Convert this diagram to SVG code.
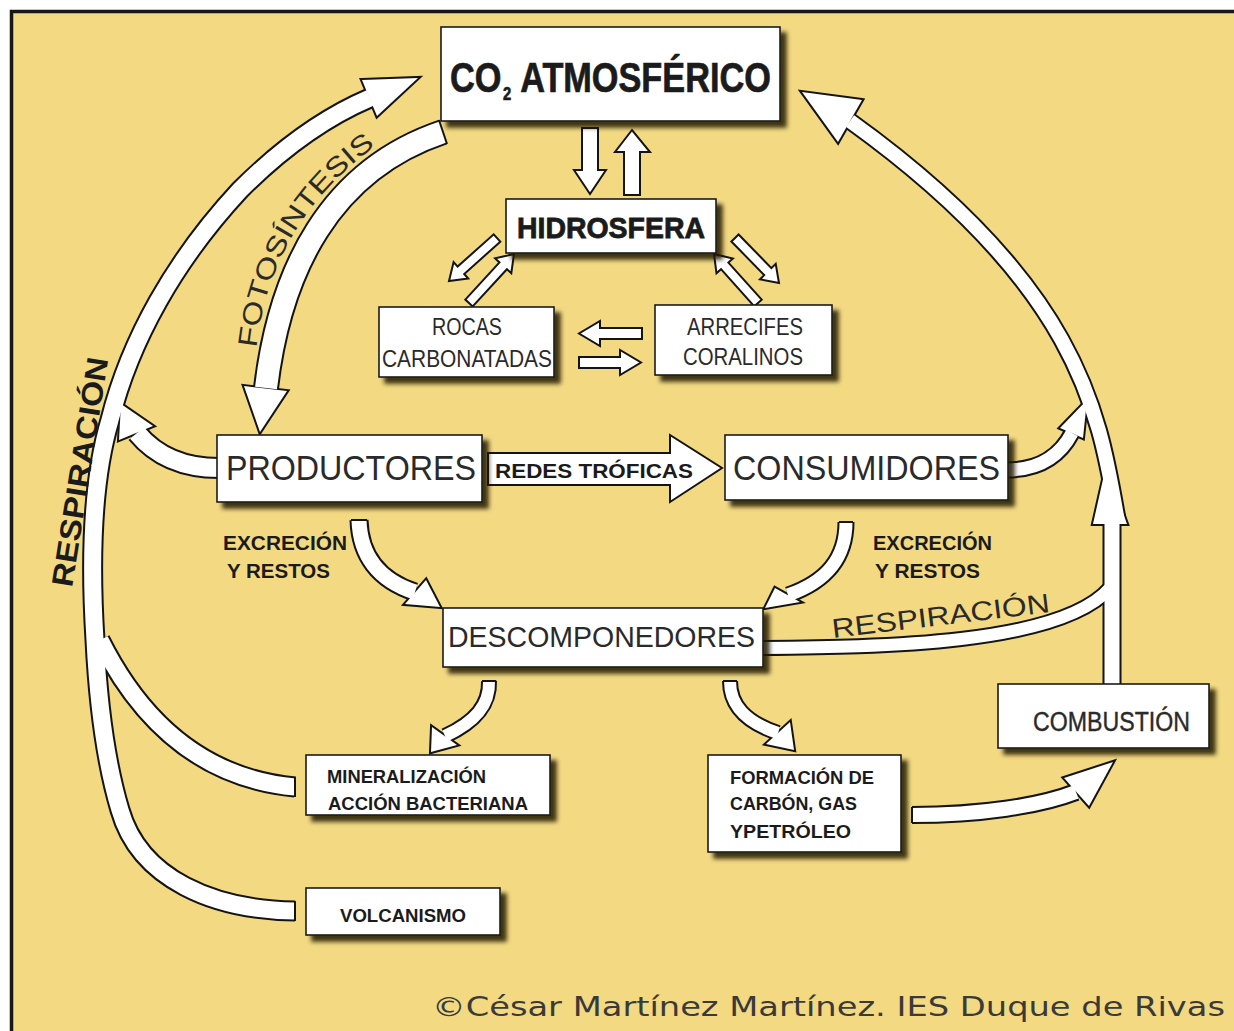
<svg xmlns="http://www.w3.org/2000/svg" xmlns:xlink="http://www.w3.org/1999/xlink" width="1234" height="1031" viewBox="0 0 1234 1031">
  <style>
    .frame { fill: #F2D982; stroke: #161616; stroke-width: 3.5; }
    .box { fill: #ffffff; stroke: #1c1c1c; stroke-width: 1.6; filter: url(#shadow); }
    .edge use.s { fill: none; stroke: #141414; }
    .edge use.h { fill: #141414; stroke: #141414; stroke-width: 4; stroke-linejoin: miter; }
    .fill use.s { fill: none; stroke: #ffffff; }
    .fill use.h { fill: #ffffff; stroke: none; }
    .cap { stroke: #141414; stroke-width: 2; }
    .ha { fill: #ffffff; stroke: #141414; stroke-width: 2; stroke-linejoin: miter; }
    text { font-family: "Liberation Sans", Arial, sans-serif; fill: #1b1b1b; }
    .b { font-weight: bold; }
    .reg { fill: #2a2a2a; }
    .copy { font-family: "DejaVu Sans", "Open Sans", sans-serif; fill: #3a3a3a; font-size: 27px; }
  </style>
  <defs>
    <filter id="shadow" x="-10%" y="-10%" width="130%" height="140%">
      <feDropShadow dx="6" dy="6" stdDeviation="2.2" flood-color="#1e1400" flood-opacity="0.85"/>
    </filter>
    <!-- curved band centrelines -->
    <path id="p-resp-left" d="M 295 911 C 215 910, 140 880, 120 810 C 105 760, 98 700, 95 640 C 90 560, 92 480, 110 420 C 130 340, 175 260, 240 190 C 285 145, 330 115, 370 98"/>
    <path id="p-miner" d="M 295 787 C 220 780, 150 740, 100 640"/>
    <path id="p-prod-resp" d="M 219 468 C 182 468, 156 456, 137 433"/>
    <path id="p-foto" d="M 443 132 C 330 170, 280 270, 266 388"/>
    <path id="p-resp-right" d="M 1118 522 C 1100 420, 1085 290, 850 121"/>
    <path id="p-comb-up" d="M 1112 686 L 1112 524"/>
    <path id="p-desc-resp" d="M 760 648 C 880 647, 1060 645, 1110 588"/>
    <path id="p-cons-resp" d="M 1006 470 C 1040 470, 1060 456, 1072 433"/>
    <path id="p-prod-desc" d="M 359 520 C 360 555, 378 580, 415 592"/>
    <path id="p-cons-desc" d="M 846 522 C 846 560, 825 582, 788 595"/>
    <path id="p-desc-miner" d="M 489 681 C 490 705, 475 722, 445 736"/>
    <path id="p-desc-form" d="M 730 681 C 730 705, 745 722, 778 733"/>
    <path id="p-form-comb" d="M 912 815 C 980 815, 1040 806, 1076 792"/>
    <!-- arrowheads -->
    <polygon id="h-resp-left" points="362,80 418,78 377,116"/>
    <polygon id="h-prod-resp" points="119,440 121,404 153,426"/>
    <polygon id="h-foto" points="244,386 260,432 287,391"/>
    <polygon id="h-resp-right" points="862,100 802,92 838,142"/>
    <polygon id="h-comb-up" points="1093,524 1106,466 1127,524"/>
    <polygon id="h-cons-resp" points="1060,428 1087,400 1083,438"/>
    <polygon id="h-prod-desc" points="426,580 440,607 405,604"/>
    <polygon id="h-cons-desc" points="775,588 765,608 800,602"/>
    <polygon id="h-desc-miner" points="432,727 431,752 457,745"/>
    <polygon id="h-desc-form" points="766,744 794,750 790,722"/>
    <polygon id="h-form-comb" points="1064,778 1113,762 1089,806"/>
    <path id="t-foto" d="M 256 352 C 264 270, 302 195, 387 138"/>
  </defs>

  <!-- page and frame -->
  <rect x="0" y="0" width="1234" height="1031" fill="#ffffff"/>
  <rect class="frame" x="11.5" y="11.5" width="1240" height="1040"/>

  <g id="connectors">
    <!-- dark outlines of the curved bands -->
    <g class="edge">
      <use class="s" href="#p-resp-left" stroke-width="21"/>
      <use class="s" href="#p-miner" stroke-width="21"/>
      <use class="s" href="#p-prod-resp" stroke-width="22"/>
      <use class="s" href="#p-foto" stroke-width="26"/>
      <use class="s" href="#p-resp-right" stroke-width="18"/>
      <use class="s" href="#p-comb-up" stroke-width="19"/>
      <use class="s" href="#p-desc-resp" stroke-width="16"/>
      <use class="s" href="#p-cons-resp" stroke-width="17"/>
      <use class="s" href="#p-prod-desc" stroke-width="19"/>
      <use class="s" href="#p-cons-desc" stroke-width="17"/>
      <use class="s" href="#p-desc-miner" stroke-width="16"/>
      <use class="s" href="#p-desc-form" stroke-width="16"/>
      <use class="s" href="#p-form-comb" stroke-width="18"/>
      <use class="h" href="#h-resp-left"/>
      <use class="h" href="#h-prod-resp"/>
      <use class="h" href="#h-foto"/>
      <use class="h" href="#h-resp-right"/>
      <use class="h" href="#h-comb-up"/>
      <use class="h" href="#h-cons-resp"/>
      <use class="h" href="#h-prod-desc"/>
      <use class="h" href="#h-cons-desc"/>
      <use class="h" href="#h-desc-miner"/>
      <use class="h" href="#h-desc-form"/>
      <use class="h" href="#h-form-comb"/>
    </g>
    <!-- white bodies -->
    <g class="fill">
      <use class="s" href="#p-resp-left" stroke-width="17"/>
      <use class="s" href="#p-miner" stroke-width="17"/>
      <use class="s" href="#p-prod-resp" stroke-width="18"/>
      <use class="s" href="#p-foto" stroke-width="22"/>
      <use class="s" href="#p-resp-right" stroke-width="14"/>
      <use class="s" href="#p-comb-up" stroke-width="15"/>
      <use class="s" href="#p-desc-resp" stroke-width="12"/>
      <use class="s" href="#p-cons-resp" stroke-width="13"/>
      <use class="s" href="#p-prod-desc" stroke-width="15"/>
      <use class="s" href="#p-cons-desc" stroke-width="13"/>
      <use class="s" href="#p-desc-miner" stroke-width="12"/>
      <use class="s" href="#p-desc-form" stroke-width="12"/>
      <use class="s" href="#p-form-comb" stroke-width="14"/>
      <use class="h" href="#h-resp-left"/>
      <use class="h" href="#h-prod-resp"/>
      <use class="h" href="#h-foto"/>
      <use class="h" href="#h-resp-right"/>
      <use class="h" href="#h-comb-up"/>
      <use class="h" href="#h-cons-resp"/>
      <use class="h" href="#h-prod-desc"/>
      <use class="h" href="#h-cons-desc"/>
      <use class="h" href="#h-desc-miner"/>
      <use class="h" href="#h-desc-form"/>
      <use class="h" href="#h-form-comb"/>
    </g>
    <!-- closed band ends -->
    <line class="cap" x1="295" y1="777" x2="295" y2="797"/>
    <line class="cap" x1="295" y1="901" x2="295" y2="921"/>
    <line class="cap" x1="912" y1="807" x2="912" y2="823"/>
    <line class="cap" x1="439" y1="120" x2="447" y2="144"/>
    <line class="cap" x1="351" y1="520" x2="367" y2="520"/>
    <line class="cap" x1="839" y1="522" x2="853" y2="522"/>
    <line class="cap" x1="482" y1="681" x2="496" y2="681"/>
    <line class="cap" x1="723" y1="681" x2="737" y2="681"/>

    <!-- straight hollow arrows -->
    <polygon class="ha" points="582,128 598,128 598,170 606,170 590,194 574,170 582,170"/>
    <polygon class="ha" points="624,195 640,195 640,152 650,152 632,130 615,152 624,152"/>
    <polygon class="ha" points="500.3,241.7 464.2,274 468.2,278.5 449,281 453.6,262.1 457.6,266.6 493.7,234.3"/>
    <polygon class="ha" points="472.7,306.4 506.9,269.2 511.3,273.2 514,254 495.1,258.4 499.5,262.4 465.3,299.6"/>
    <polygon class="ha" points="731.4,241.5 764.2,275.1 759.9,279.3 779,283 775.7,263.9 771.4,268.1 738.6,234.5"/>
    <polygon class="ha" points="761.7,299.7 728.4,262.6 732.9,258.6 714,254 716.5,273.2 721,269.2 754.3,306.3"/>
    <polygon class="ha" points="642,328 600,328 600,321 579,333.5 600,346 600,339 642,339"/>
    <polygon class="ha" points="579,357 620,357 620,350 641,362.5 620,375 620,368 579,368"/>
    <polygon class="ha" points="488,453 670,453 670,435 722,468 670,502 670,485 488,485"/>

    <!-- connector labels -->
    <text class="b" x="495" y="478" font-size="21" textLength="198" lengthAdjust="spacingAndGlyphs">REDES TRÓFICAS</text>
    <text font-size="27" class="reg"><textPath href="#t-foto" startOffset="4" textLength="242" lengthAdjust="spacingAndGlyphs">FOTOSÍNTESIS</textPath></text>
    <text class="b" font-size="30" transform="translate(72 588) rotate(-81)" textLength="232" lengthAdjust="spacingAndGlyphs">RESPIRACIÓN</text>
    <text class="reg" font-size="27" transform="translate(833 638) rotate(-6.8)" textLength="219" lengthAdjust="spacingAndGlyphs">RESPIRACIÓN</text>
    <text class="b" x="223" y="550" font-size="21" textLength="124" lengthAdjust="spacingAndGlyphs">EXCRECIÓN</text>
    <text class="b" x="227" y="578" font-size="21" textLength="103" lengthAdjust="spacingAndGlyphs">Y  RESTOS</text>
    <text class="b" x="873" y="550" font-size="21" textLength="119" lengthAdjust="spacingAndGlyphs">EXCRECIÓN</text>
    <text class="b" x="875" y="578" font-size="21" textLength="105" lengthAdjust="spacingAndGlyphs">Y RESTOS</text>
  </g>

  <g id="n-co2">
    <rect class="box" x="441" y="27" width="339" height="94"/>
    <!-- condensed heavy title; the subscript sits in its own tspan -->
    <text class="b" font-size="42" stroke="#1b1b1b" stroke-width="0.7" transform="translate(450 92) scale(0.816 1)"><tspan x="0" y="0">CO</tspan><tspan x="65" y="8" font-size="18">2 </tspan><tspan x="86" y="0">ATMOSFÉRICO</tspan></text>
  </g>
  <g id="n-hidrosfera">
    <rect class="box" x="506" y="199" width="210" height="54"/>
    <text class="b" x="517" y="238" font-size="29" stroke="#1b1b1b" stroke-width="0.8" textLength="188" lengthAdjust="spacingAndGlyphs">HIDROSFERA</text>
  </g>
  <g id="n-rocas">
    <rect class="box" x="379" y="307" width="175" height="70"/>
    <text class="reg" x="432" y="335" font-size="23" textLength="70" lengthAdjust="spacingAndGlyphs">ROCAS</text>
    <text class="reg" x="382" y="367" font-size="23" textLength="170" lengthAdjust="spacingAndGlyphs">CARBONATADAS</text>
  </g>
  <g id="n-arrecifes">
    <rect class="box" x="655" y="305" width="177" height="70"/>
    <text class="reg" x="687" y="335" font-size="23" textLength="116" lengthAdjust="spacingAndGlyphs">ARRECIFES</text>
    <text class="reg" x="683" y="365" font-size="23" textLength="120" lengthAdjust="spacingAndGlyphs">CORALINOS</text>
  </g>
  <g id="n-productores">
    <rect class="box" x="217" y="435" width="265" height="67"/>
    <text class="reg" x="226" y="480" font-size="35" textLength="250" lengthAdjust="spacingAndGlyphs">PRODUCTORES</text>
  </g>
  <g id="n-consumidores">
    <rect class="box" x="725" y="435" width="283" height="65"/>
    <text class="reg" x="733" y="480" font-size="35" textLength="267" lengthAdjust="spacingAndGlyphs">CONSUMIDORES</text>
  </g>
  <g id="n-descomponedores">
    <rect class="box" x="443" y="608" width="320" height="59"/>
    <text class="reg" x="448" y="647" font-size="29" textLength="307" lengthAdjust="spacingAndGlyphs">DESCOMPONEDORES</text>
  </g>
  <g id="n-mineralizacion">
    <rect class="box" x="306" y="755" width="244" height="60"/>
    <text class="b" x="327" y="783" font-size="19" textLength="159" lengthAdjust="spacingAndGlyphs">MINERALIZACIÓN</text>
    <text class="b" x="328" y="810" font-size="19" textLength="200" lengthAdjust="spacingAndGlyphs">ACCIÓN BACTERIANA</text>
  </g>
  <g id="n-volcanismo">
    <rect class="box" x="306" y="888" width="194" height="47"/>
    <text class="b" x="340" y="922" font-size="19" textLength="126" lengthAdjust="spacingAndGlyphs">VOLCANISMO</text>
  </g>
  <g id="n-formacion">
    <rect class="box" x="708" y="755" width="193" height="97"/>
    <text class="b" x="730" y="784" font-size="19" textLength="144" lengthAdjust="spacingAndGlyphs">FORMACIÓN DE</text>
    <text class="b" x="730" y="810" font-size="19" textLength="127" lengthAdjust="spacingAndGlyphs">CARBÓN, GAS</text>
    <text class="b" x="730" y="838" font-size="19" textLength="121" lengthAdjust="spacingAndGlyphs">YPETRÓLEO</text>
  </g>
  <g id="n-combustion">
    <rect class="box" x="998" y="684" width="211" height="64"/>
    <text class="reg" x="1033" y="731" font-size="27" stroke="#2a2a2a" stroke-width="0.4" textLength="157" lengthAdjust="spacingAndGlyphs">COMBUSTIÓN</text>
  </g>

  <text class="copy" x="432" y="1016" textLength="793" lengthAdjust="spacingAndGlyphs">©César Martínez Martínez. IES Duque de Rivas</text>
</svg>
